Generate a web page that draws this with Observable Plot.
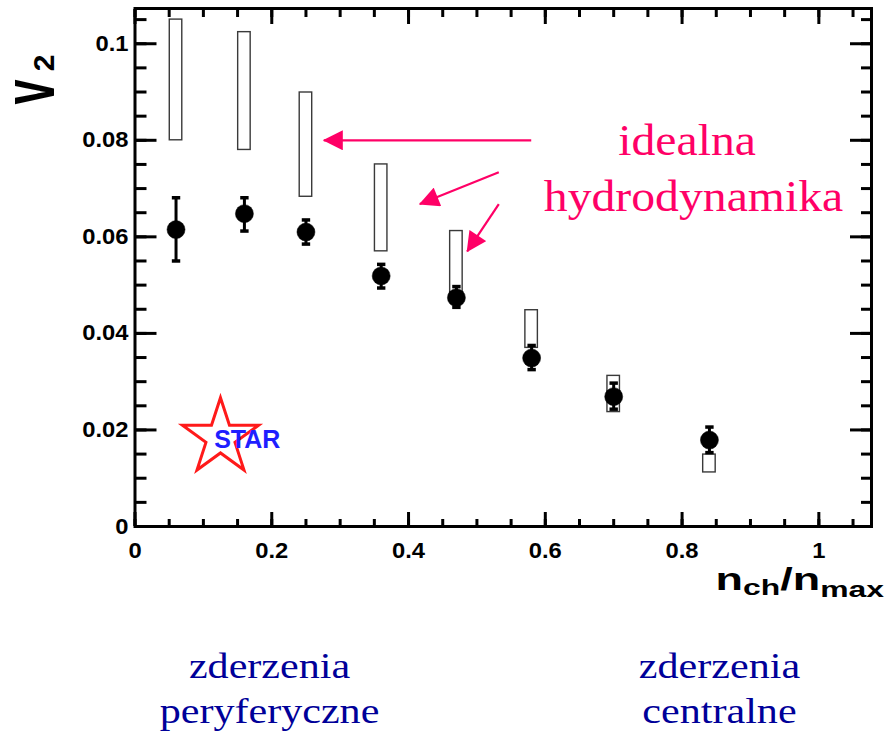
<!DOCTYPE html>
<html>
<head>
<meta charset="utf-8">
<script src="https://cdn.jsdelivr.net/npm/d3@7"></script>
<script src="https://cdn.jsdelivr.net/npm/@observablehq/plot@0.6"></script>
<style>
  html, body { margin: 0; padding: 0; background: #fff; }
  #chart svg { display: block; }
</style>
</head>
<body>
<div id="chart"></div>
<script>
// ---- data ----
const nch      = [0.06, 0.16, 0.25, 0.36, 0.47, 0.58, 0.70, 0.84];
const v2       = [0.0615, 0.0648, 0.0610, 0.0519, 0.0474, 0.0349, 0.0269, 0.0179];
const v2Hi     = [0.0681, 0.0681, 0.0635, 0.0543, 0.0497, 0.0375, 0.0297, 0.0206];
const v2Lo     = [0.0550, 0.0612, 0.0585, 0.0494, 0.0454, 0.0325, 0.0243, 0.0153];
const hydroLo  = [0.0800, 0.0780, 0.0683, 0.0570, 0.0480, 0.0370, 0.0237, 0.0112];
const hydroHi  = [0.1050, 0.1024, 0.0899, 0.0750, 0.0612, 0.0448, 0.0312, 0.0149];

const xTicks = [0, 0.2, 0.4, 0.6, 0.8, 1];
const xTickLabels = ["0", "0.2", "0.4", "0.6", "0.8", "1"];
const yTicks = [0, 0.02, 0.04, 0.06, 0.08, 0.1];
const yTickLabels = ["0", "0.02", "0.04", "0.06", "0.08", "0.1"];

// annotation arrows (data coordinates)
const arrowX1 = [0.5794, 0.532, 0.532];
const arrowY1 = [0.0800, 0.0734, 0.0668];
const arrowX2 = [0.2761, 0.4165, 0.4858];
const arrowY2 = [0.0800, 0.0668, 0.0570];

const hydroText = ["idealna", "hydrodynamika"];
const hydroTextX = [0.8073, 0.8167];
const hydroTextY = [0.0769, 0.0653];

const captionText = ["zderzenia\nperyferyczne", "zderzenia\ncentralne"];
const captionX = [0.1967, 0.8547];

const logoX = [0.125];
const logoY = [0.0184];
const logoTextX = [0.1641];
const logoTextY = [0.0162];

// ---- build tables ----
const points = nch.map((x, i) => ({x, y: v2[i], hi: v2Hi[i], lo: v2Lo[i], hlo: hydroLo[i], hhi: hydroHi[i]}));
const caps = points.flatMap(d => [{x: d.x, y: d.hi}, {x: d.x, y: d.lo}]);
const arrows = arrowX1.map((x1, i) => ({x1, y1: arrowY1[i], x2: arrowX2[i], y2: arrowY2[i]}));
const hydroLabels = hydroText.map((t, i) => ({t, x: hydroTextX[i], y: hydroTextY[i]}));
const captions = captionText.map((t, i) => ({t, x: captionX[i]}));
const logo = logoX.map((x, i) => ({x, y: logoY[i]}));
const logoText = logoTextX.map((x, i) => ({x, y: logoTextY[i], t: "STAR"}));

const xMinor = d3.range(0, 22).map(i => +(i * 0.05).toFixed(3)).filter(v => v <= 1.077);
const yMinor = d3.range(0, 22).map(i => +(i * 0.005).toFixed(4)).filter(v => v <= 0.1073);

const capSymbol = {
  draw(context, size) {
    const w = Math.sqrt(size / Math.PI);
    context.moveTo(-w, 0);
    context.lineTo(w, 0);
  }
};

const pink = "#ff0066";
const navy = "#000099";

const plot = Plot.plot({
  width: 887,
  height: 735,
  marginLeft: 134.5,
  marginRight: 16,
  marginTop: 8,
  marginBottom: 209,
  x: {domain: [0, 1.077]},
  y: {domain: [0, 0.1073]},
  style: {
    fontFamily: "'Liberation Sans', Arial, sans-serif",
    fontSize: "22px",
    fontWeight: "bold",
    background: "white",
    color: "black",
    overflow: "visible"
  },
  marks: [
    // hydrodynamic boxes
    Plot.rect(points, {
      x1: "x", x2: "x", y1: "hlo", y2: "hhi",
      insetLeft: -6.25, insetRight: -6.25,
      fill: "none", stroke: "#3a3a3a", strokeWidth: 1.4
    }),
    // arrows
    Plot.link(arrows, {x1: "x1", y1: "y1", x2: "x2", y2: "y2", stroke: pink, strokeWidth: 2.2}),
    // error bars
    Plot.ruleX(points, {x: "x", y1: "lo", y2: "hi", stroke: "black", strokeWidth: 3}),
    Plot.dot(caps, {x: "x", y: "y", symbol: capSymbol, r: 4.2, stroke: "black", strokeWidth: 3.5, fill: "none"}),
    // data points
    Plot.dot(points, {x: "x", y: "y", r: 9, fill: "black", stroke: "black", strokeWidth: 0.5}),
    // STAR logo
    Plot.dot(logo, {x: "x", y: "y", symbol: "star", r: 23.9, fill: "none", stroke: "#ff1a1a", strokeWidth: 3}),
    Plot.text(logoText, {x: "x", y: "y", text: "t", fill: "#1f1fff", fontSize: 25, fontWeight: "bold",
      fontFamily: "'Liberation Sans', Arial, sans-serif", textAnchor: "middle", lineAnchor: "bottom"}),
    // hydro labels
    Plot.text(hydroLabels, {x: "x", y: "y", text: "t", fill: pink, fontSize: 45, fontWeight: "normal",
      fontFamily: "'Liberation Serif', 'Times New Roman', serif", textAnchor: "middle", lineAnchor: "bottom",
      ariaDescription: "stretch-hydro"}),
    // bottom captions
    Plot.text(captions, {x: "x", text: "t", frameAnchor: "bottom", dy: 196, fill: navy, fontSize: 36,
      fontWeight: "normal", fontFamily: "'Liberation Serif', 'Times New Roman', serif",
      textAnchor: "middle", lineAnchor: "bottom", lineHeight: 1.25, ariaDescription: "stretch-caption"}),
    // frame
    Plot.frame({stroke: "black", strokeWidth: 3}),
    // axes: bottom
    Plot.axisX(xMinor, {anchor: "bottom", tickSize: -7, strokeWidth: 3, tickFormat: () => "", label: null}),
    Plot.axisX(xTicks, {anchor: "bottom", tickSize: -14, tickPadding: 30, strokeWidth: 3,
      tickFormat: d => xTickLabels[xTicks.indexOf(d)], label: null, ariaDescription: "stretch-tick"}),
    // top
    Plot.axisX(xMinor, {anchor: "top", tickSize: -8, strokeWidth: 3, tickFormat: () => "", label: null}),
    Plot.axisX(xTicks, {anchor: "top", tickSize: -15, strokeWidth: 3, tickFormat: () => "", label: null}),
    // left
    Plot.axisY(yMinor, {anchor: "left", tickSize: -12, strokeWidth: 3, tickFormat: () => "", label: null}),
    Plot.axisY(yTicks, {anchor: "left", tickSize: -22, tickPadding: 28.5, strokeWidth: 3,
      tickFormat: d => yTickLabels[yTicks.indexOf(d)], label: null, ariaDescription: "stretch-tick"}),
    // right
    Plot.axisY(yMinor, {anchor: "right", tickSize: -11, strokeWidth: 3, tickFormat: () => "", label: null}),
    Plot.axisY(yTicks, {anchor: "right", tickSize: -22, strokeWidth: 3, tickFormat: () => "", label: null})
  ]
});

document.getElementById("chart").appendChild(plot);

// ---- post styling ----
const svg = d3.select(plot.tagName.toLowerCase() === "svg" ? plot : plot.querySelector("svg"));

// filled arrow heads
const defs = svg.insert("defs", ":first-child");
defs.append("marker")
  .attr("id", "ahead")
  .attr("viewBox", "0 0 10 10")
  .attr("refX", 9.5).attr("refY", 5)
  .attr("markerUnits", "userSpaceOnUse")
  .attr("markerWidth", 21).attr("markerHeight", 20)
  .attr("orient", "auto")
  .append("path").attr("d", "M0,0L10,5L0,10z").attr("fill", pink);
svg.selectAll('g[aria-label="link"] path').attr("marker-end", "url(#ahead)");

function stretch(desc, sx) {
  svg.selectAll(`g[aria-description="${desc}"] text`).each(function () {
    const tr = this.getAttribute("transform") || "";
    if (tr) this.setAttribute("transform", tr + ` scale(${sx},1)`);
  });
}
stretch("stretch-hydro", 1.06);
stretch("stretch-caption", 1.17);
stretch("stretch-tick", 1.08);

// axis titles
const ylab = svg.append("g").attr("font-family", "'Liberation Sans', Arial, sans-serif").attr("font-weight", "bold").attr("fill", "black");
ylab.append("text").attr("transform", "translate(54,92) rotate(-90) scale(1,1.65)").attr("font-size", 45).text("v");
ylab.append("text").attr("transform", "translate(54,63) rotate(-90)").attr("font-size", 30).text("2");

const xlab = svg.append("text")
  .attr("transform", "translate(884,590) scale(1.45,1)")
  .attr("text-anchor", "end")
  .attr("font-family", "'Liberation Sans', Arial, sans-serif")
  .attr("font-weight", "bold")
  .attr("fill", "black");
xlab.append("tspan").attr("font-size", 31).text("n");
xlab.append("tspan").attr("font-size", 22).attr("dy", 5).text("ch");
xlab.append("tspan").attr("font-size", 31).attr("dy", -5).text("/n");
xlab.append("tspan").attr("font-size", 22).attr("dy", 6.5).text("max");
</script>
</body>
</html>
